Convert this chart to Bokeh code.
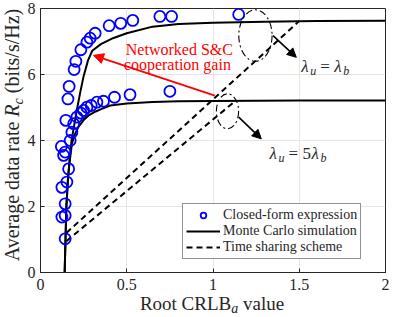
from bokeh.plotting import figure
from bokeh.models import Range1d, Label, Arrow, NormalHead, Legend, LegendItem, FixedTicker, Div
from bokeh.layouts import row, column
from bokeh.embed import file_html
from bokeh.resources import INLINE

# ---------------- data ----------------
x_ticks = [0, 0.5, 1, 1.5, 2]
x_tick_labels = ["0", "0.5", "1", "1.5", "2"]
y_ticks = [0, 2, 4, 6, 8]
y_tick_labels = ["0", "2", "4", "6", "8"]

# closed-form expression (circles), lambda_u = lambda_b
cf_b_x = [0.124, 0.124, 0.134, 0.121, 0.147, 0.159, 0.166, 0.195, 0.205, 0.234, 0.269, 0.288, 0.317, 0.398, 0.465, 0.535, 0.692, 0.760, 1.149]
cf_b_y = [1.68, 2.58, 3.55, 3.82, 4.61, 5.26, 5.64, 6.15, 6.40, 6.75, 6.98, 7.10, 7.25, 7.48, 7.55, 7.64, 7.76, 7.76, 7.82]
# closed-form expression (circles), lambda_u = 5 lambda_b
cf_5b_x = [0.143, 0.143, 0.143, 0.153, 0.163, 0.143, 0.172, 0.182, 0.192, 0.211, 0.234, 0.250, 0.269, 0.294, 0.327, 0.365, 0.429, 0.519, 0.750]
cf_5b_y = [1.02, 1.73, 2.08, 2.74, 3.14, 3.65, 4.00, 4.25, 4.51, 4.71, 4.83, 4.91, 5.01, 5.06, 5.16, 5.19, 5.31, 5.39, 5.49]

# Monte Carlo simulation
mc_b_x = [0.140, 0.150, 0.160, 0.170, 0.180, 0.195, 0.210, 0.230, 0.250, 0.275, 0.300, 0.350, 0.420, 0.500, 0.650, 0.800, 1.000, 1.300, 1.600, 2.000]
mc_b_y = [0.00, 2.00, 2.90, 3.50, 4.00, 4.45, 4.90, 5.45, 5.95, 6.42, 6.72, 6.92, 7.10, 7.25, 7.45, 7.53, 7.57, 7.60, 7.62, 7.63]
mc_5b_x = [0.140, 0.150, 0.160, 0.170, 0.182, 0.200, 0.221, 0.250, 0.279, 0.320, 0.355, 0.404, 0.500, 0.650, 0.800, 1.000, 1.500, 2.000]
mc_5b_y = [0.00, 2.00, 2.90, 3.40, 3.90, 4.20, 4.42, 4.62, 4.76, 4.88, 4.96, 5.06, 5.12, 5.17, 5.19, 5.20, 5.21, 5.21]

# time sharing scheme
ts_b_x = [0.150, 1.500]
ts_b_y = [1.20, 7.62]
ts_5b_x = [0.150, 1.130]
ts_5b_y = [0.95, 5.20]

# annotation geometry (data units)
ell_x = [1.246, 1.084]
ell_y = [7.18, 4.885]
ell_w = [0.193, 0.129]
ell_h = [1.56, 1.06]
red_arrow = (1.011, 5.36, 0.307, 6.58)
blk_arrows = [(1.348, 7.18, 1.483, 6.52), (1.149, 4.71, 1.280, 4.05)]

SERIF = "Liberation Serif"
DARK = "#262626"

YDIV_W = 24
FIG_W, FIG_H = 393 - YDIV_W, 298
XDIV_H = 317 - FIG_H

p = figure(width=FIG_W, height=FIG_H, output_backend="svg", toolbar_location=None,
           x_range=Range1d(0, 2), y_range=Range1d(0, 8),
           min_border_left=15, min_border_right=8, min_border_top=8, min_border_bottom=26,
           background_fill_color="white", border_fill_color="white", margin=0)

p.outline_line_color = DARK
p.outline_line_width = 1
for ax in (p.xaxis, p.yaxis):
    ax.axis_line_color = DARK
    ax.major_tick_line_color = DARK
    ax.major_tick_in = 4
    ax.major_tick_out = 0
    ax.minor_tick_line_color = None
    ax.major_label_text_font = SERIF
    ax.major_label_text_font_size = "16px"
    ax.major_label_text_color = DARK
p.xaxis.ticker = FixedTicker(ticks=x_ticks)
p.yaxis.ticker = FixedTicker(ticks=y_ticks)
p.xaxis.major_label_overrides = dict(zip(x_ticks, x_tick_labels))
p.yaxis.major_label_overrides = dict(zip(y_ticks, y_tick_labels))
p.xaxis.major_label_standoff = 6
p.yaxis.major_label_standoff = 5
p.xgrid.ticker = FixedTicker(ticks=x_ticks)
p.ygrid.ticker = FixedTicker(ticks=y_ticks)
p.grid.grid_line_color = "#e6e6e6"
p.grid.grid_line_width = 1

# time sharing (dashed)
ts1 = p.line(ts_b_x, ts_b_y, line_color="black", line_width=2, line_dash="6 4")
p.line(ts_5b_x, ts_5b_y, line_color="black", line_width=2, line_dash="6 4")
# Monte Carlo (solid)
mc1 = p.line(mc_b_x, mc_b_y, line_color="black", line_width=2)
p.line(mc_5b_x, mc_5b_y, line_color="black", line_width=2)
# closed-form circles
cf1 = p.scatter(cf_b_x, cf_b_y, marker="circle", size=11, fill_color=None, line_color="#0000FF", line_width=1.8)
p.scatter(cf_5b_x, cf_5b_y, marker="circle", size=11, fill_color=None, line_color="#0000FF", line_width=1.8)

# ellipses
p.ellipse(x=ell_x, y=ell_y, width=ell_w, height=ell_h, fill_color=None,
          line_color="black", line_width=1.1, line_dash="7 3 2 3")

# arrows
x0, y0, x1, y1 = red_arrow
p.add_layout(Arrow(end=NormalHead(size=10, fill_color="red", line_color="red"),
                   x_start=x0, y_start=y0, x_end=x1, y_end=y1, line_color="red", line_width=1.8))
for (x0, y0, x1, y1) in blk_arrows:
    p.add_layout(Arrow(end=NormalHead(size=9, fill_color="black", line_color="black"),
                       x_start=x0, y_start=y0, x_end=x1, y_end=y1, line_color="black", line_width=1.6))

# red text
for txt, yy in (("Networked S&C", 6.77), ("cooperation  gain", 6.29)):
    p.add_layout(Label(x=0.805, y=yy, text=txt, text_align="center", text_baseline="alphabetic",
                       text_font=SERIF, text_font_size="16px", text_color="red"))

def compose(x, y, pieces, size, sub_size):
    for txt, dx, italic, sub in pieces:
        p.add_layout(Label(x=x, y=y, x_offset=dx, y_offset=(-4 if sub else 0), text=txt,
                           text_align="left", text_baseline="alphabetic",
                           text_font=SERIF, text_font_size=(sub_size if sub else size),
                           text_font_style=("italic" if italic else "normal"), text_color=DARK))

compose(1.512, 6.24, [("λ", 0, True, False), ("u", 9, True, True), ("=", 19, False, False),
                      ("λ", 33, True, False), ("b", 42, True, True)], "17px", "12px")
compose(1.327, 3.60, [("λ", 0, True, False), ("u", 9, True, True), ("=", 19, False, False),
                      ("5", 33, False, False), ("λ", 42, True, False), ("b", 51, True, True)], "17px", "12px")

legend = Legend(items=[LegendItem(label="Closed-form expression", renderers=[cf1]),
                       LegendItem(label="Monte Carlo simulation", renderers=[mc1]),
                       LegendItem(label="Time sharing scheme", renderers=[ts1])],
                location=(142, 13), label_text_font=SERIF, label_text_font_size="14px",
                label_text_color=DARK, glyph_width=34, glyph_height=14, label_height=14,
                label_standoff=3, padding=3, spacing=0, margin=0,
                border_line_color=DARK, border_line_width=0.8, background_fill_alpha=1)
p.add_layout(legend)

# axis labels as HTML (for italic + subscripts)
SUB_X = "font-size:14px;font-style:italic;vertical-align:-3px;line-height:0"
SUB_Y = "font-size:14px;font-style:italic;vertical-align:-4px;line-height:0"
x_label_html = ('<div style="width:376px;text-align:center;white-space:nowrap;'
                "font-family:'Liberation Serif';font-size:19px;line-height:11px;color:#262626;\">"
                f'Root CRLB<sub style="{SUB_X}">a</sub> value</div>')
y_label_html = ('<div style="position:absolute;left:0;top:0;width:364px;height:24px;'
                'transform-origin:0 0;transform:translate(0px,317px) rotate(-90deg);'
                'text-align:center;white-space:nowrap;'
                "font-family:'Liberation Serif';font-size:20px;line-height:24.5px;color:#262626;\">"
                f'Average data rate <i>R</i><sub style="{SUB_Y}">c</sub> (bits/s/Hz)</div>')

xdiv = Div(text=x_label_html, width=FIG_W, height=XDIV_H, margin=0)
ydiv = Div(text=y_label_html, width=YDIV_W, height=FIG_H + XDIV_H, margin=0)

layout = row(ydiv, column(p, xdiv, spacing=0), spacing=0)

open("out.html", "w").write(file_html(layout, INLINE))
